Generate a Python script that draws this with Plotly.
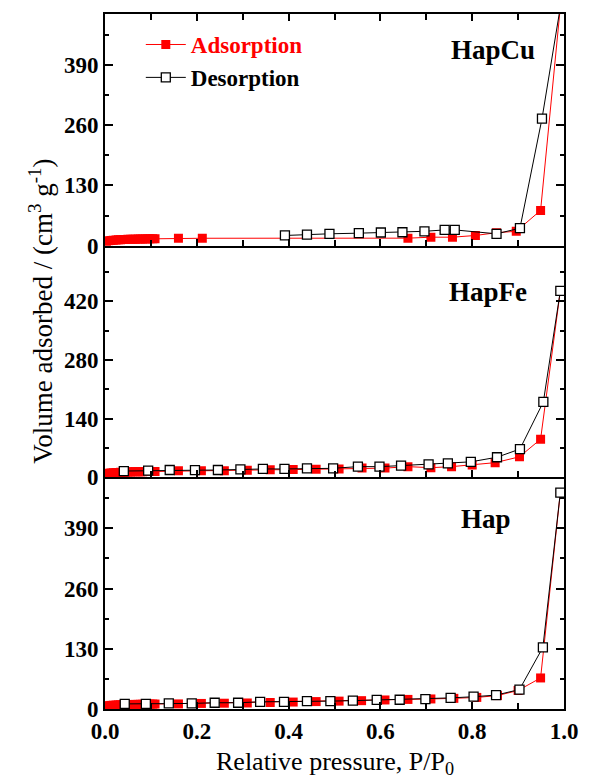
import plotly.graph_objects as go
from plotly.subplots import make_subplots

# ---- N2 isotherm data: relative pressure P/P0 and adsorbed volume (cm3/g) ----
# HapCu
cu_ads_p = [0.003, 0.008, 0.013, 0.018, 0.024, 0.029, 0.034, 0.040, 0.045, 0.050,
            0.056, 0.061, 0.066, 0.072, 0.077, 0.082, 0.088, 0.093, 0.098, 0.104,
            0.109, 0.160, 0.212, 0.660, 0.710, 0.757, 0.807, 0.853, 0.896, 0.949, 0.992]
cu_ads_v = [9.0, 10.5, 11.2, 11.8, 12.2, 12.6, 12.9, 13.2, 13.4, 13.6,
            13.8, 14.0, 14.1, 14.3, 14.4, 14.5, 14.6, 14.7, 14.8, 14.9,
            15.0, 16.0, 16.0, 16.2, 18.3, 18.3, 22.0, 28.0, 31.0, 76.0, 515.0]
cu_des_p = [0.392, 0.440, 0.489, 0.553, 0.601, 0.648, 0.696, 0.740, 0.762, 0.853,
            0.904, 0.952, 0.992]
cu_des_v = [22.0, 24.0, 25.6, 27.0, 28.4, 29.0, 31.0, 34.0, 34.0, 25.6,
            37.7, 274.0, 515.0]

# HapFe
fe_ads_p = [0.003, 0.008, 0.013, 0.018, 0.024, 0.029, 0.034, 0.040, 0.045, 0.050,
            0.056, 0.061, 0.066, 0.072, 0.077, 0.082, 0.088, 0.093, 0.098, 0.104,
            0.109, 0.160, 0.210, 0.260, 0.310, 0.360, 0.410, 0.460, 0.510, 0.560,
            0.610, 0.660, 0.710, 0.755, 0.800, 0.850, 0.903, 0.949, 0.992]
fe_ads_v = [8.0, 9.5, 10.3, 10.9, 11.4, 11.8, 12.1, 12.4, 12.6, 12.8,
            13.0, 13.1, 13.3, 13.4, 13.5, 13.6, 13.7, 13.8, 13.9, 14.0,
            14.1, 15.5, 15.5, 16.0, 17.0, 18.0, 18.5, 19.5, 20.0, 22.0,
            22.0, 25.5, 23.0, 25.5, 29.5, 35.0, 49.0, 91.0, 445.0]
fe_des_p = [0.041, 0.094, 0.141, 0.196, 0.246, 0.295, 0.344, 0.391, 0.440, 0.497,
            0.551, 0.598, 0.645, 0.705, 0.747, 0.797, 0.854, 0.904, 0.955, 0.992]
fe_des_v = [15.0, 16.0, 17.5, 17.0, 17.5, 19.0, 20.0, 20.0, 21.5, 21.5,
            25.5, 25.5, 28.0, 31.0, 33.5, 37.0, 48.0, 67.5, 180.0, 445.0]

# Hap
hap_ads_p = [0.003, 0.008, 0.013, 0.018, 0.024, 0.029, 0.034, 0.040, 0.045, 0.050,
             0.056, 0.061, 0.066, 0.072, 0.077, 0.082, 0.088, 0.093, 0.098, 0.104,
             0.109, 0.160, 0.210, 0.260, 0.310, 0.360, 0.410, 0.460, 0.510, 0.559,
             0.610, 0.660, 0.710, 0.760, 0.810, 0.855, 0.900, 0.949, 0.992]
hap_ads_v = [6.0, 7.2, 7.8, 8.2, 8.5, 8.8, 9.0, 9.2, 9.4, 9.5,
             9.7, 9.8, 9.9, 10.0, 10.1, 10.2, 10.3, 10.4, 10.5, 10.6,
             10.7, 11.0, 12.0, 12.5, 13.0, 14.0, 15.0, 16.0, 17.0, 18.0,
             19.5, 20.7, 21.7, 23.0, 25.0, 29.0, 40.0, 67.0, 467.0]
hap_des_p = [0.043, 0.089, 0.139, 0.189, 0.239, 0.290, 0.338, 0.390, 0.440, 0.491,
             0.540, 0.592, 0.642, 0.698, 0.753, 0.803, 0.852, 0.903, 0.954, 0.992]
hap_des_v = [11.0, 11.0, 12.0, 12.0, 13.5, 13.5, 15.5, 15.5, 17.0, 17.0,
             18.0, 19.5, 20.0, 21.5, 24.0, 26.5, 30.0, 42.0, 133.0, 467.0]

samples = ["HapCu", "HapFe", "Hap"]
y_ranges = [[0, 500], [0, 553], [0, 500]]
y_ticks = [[0, 130, 260, 390], [0, 140, 280, 420], [0, 130, 260, 390]]
y_minor = [65, 70, 65]

series = [
    (cu_ads_p, cu_ads_v, cu_des_p, cu_des_v),
    (fe_ads_p, fe_ads_v, fe_des_p, fe_des_v),
    (hap_ads_p, hap_ads_v, hap_des_p, hap_des_v),
]

FONT = "Times New Roman, Liberation Serif, Times, serif"
RED = "#ff0000"

fig = make_subplots(rows=3, cols=1, shared_xaxes=True, vertical_spacing=0)

for i, (ap, av, dp, dv) in enumerate(series):
    row = i + 1
    fig.add_trace(go.Scatter(
        x=ap, y=av, mode="lines+markers",
        name=f"<span style='color:{RED}'>Adsorption</span>",
        line=dict(color=RED, width=1),
        marker=dict(symbol="square", size=9, color=RED, line=dict(color=RED, width=0)),
        showlegend=(i == 0), legendgroup="ads", cliponaxis=True,
    ), row=row, col=1)
    fig.add_trace(go.Scatter(
        x=dp, y=dv, mode="lines+markers",
        name="Desorption",
        line=dict(color="black", width=1),
        marker=dict(symbol="square", size=9, color="white", line=dict(color="black", width=1.3)),
        showlegend=(i == 0), legendgroup="des", cliponaxis=True,
    ), row=row, col=1)

    fig.update_yaxes(
        row=row, col=1, range=y_ranges[i], tickvals=y_ticks[i],
        ticks="inside", ticklen=8, tickwidth=2, tickcolor="black",
        showline=True, linewidth=2, linecolor="black", mirror="ticks",
        showgrid=False, zeroline=False,
        tickfont=dict(family=FONT, size=23, color="black", weight="bold"),
        minor=dict(dtick=y_minor[i], tick0=0, ticks="inside", ticklen=4,
                   tickwidth=1.5, tickcolor="black", showgrid=False),
    )
    # the top panel carries the frame's upper edge; lower panels share the
    # boundary line drawn by the panel above them
    fig.update_xaxes(
        row=row, col=1, range=[0, 1], dtick=0.2, tick0=0,
        ticks="inside", ticklen=7, tickwidth=2, tickcolor="black",
        showline=True, linewidth=2, linecolor="black",
        mirror=("ticks" if row == 1 else False),
        showgrid=False, zeroline=False,
        showticklabels=(row == 3), tickformat=".1f",
        tickfont=dict(family=FONT, size=23, color="black", weight="bold"),
        minor=dict(dtick=0.1, tick0=0, ticks="inside", ticklen=6,
                   tickwidth=1.5, tickcolor="black", showgrid=False),
    )

# sample labels inside each panel
label_pos = [(0.846, 0.948), (0.835, 0.60), (0.829, 0.273)]
for name, (lx, ly) in zip(samples, label_pos):
    fig.add_annotation(text=f"<b>{name}</b>", xref="paper", yref="paper",
                       x=lx, y=ly, xanchor="center", yanchor="middle",
                       showarrow=False,
                       font=dict(family=FONT, size=27, color="black"))

# axis titles
fig.add_annotation(text="Volume adsorbed / (cm<sup>3</sup> g<sup>-1</sup>)",
                   xref="paper", yref="paper", x=-0.139, y=0.572,
                   xanchor="center", yanchor="middle",
                   textangle=-90, showarrow=False,
                   font=dict(family=FONT, size=27, color="black"))
fig.add_annotation(text="Relative pressure, P/P<sub>0</sub>",
                   xref="paper", yref="paper", x=0.5, y=-0.078,
                   xanchor="center", yanchor="middle",
                   showarrow=False,
                   font=dict(family=FONT, size=26, color="black"))

fig.update_layout(
    width=590, height=780,
    margin=dict(l=105, r=18, t=14, b=71),
    paper_bgcolor="white", plot_bgcolor="white",
    showlegend=True,
    legend=dict(x=0.078, y=0.987, xanchor="left", yanchor="top",
                bgcolor="rgba(0,0,0,0)", tracegroupgap=0, itemwidth=40,
                font=dict(family=FONT, size=23, color="black", weight="bold")),
)

fig.write_html("out.html")
